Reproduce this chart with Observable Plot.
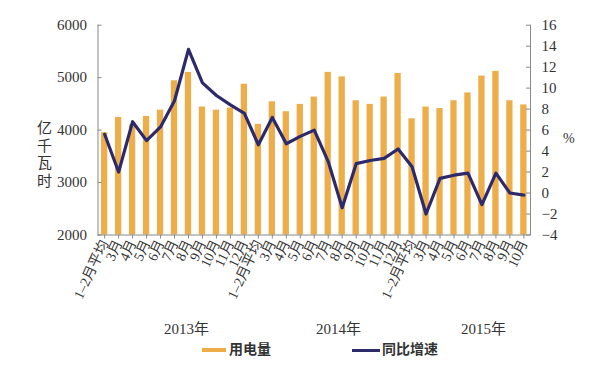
<!DOCTYPE html>
<html><head><meta charset="utf-8">
<script src="https://cdn.jsdelivr.net/npm/d3@7"></script>
<script src="https://cdn.jsdelivr.net/npm/@observablehq/plot@0.6"></script>
<style>
body{margin:0;background:#fff;}
#wrap{position:relative;width:600px;height:379px;font-family:"Liberation Serif","Noto Sans CJK SC",serif;color:#333;}
.abs{position:absolute;white-space:nowrap;line-height:1;}
</style></head><body><div id="wrap"></div>
<script>
// ---- data ----
const years = ["2013年", "2014年", "2015年"];
const months2013 = ["1–2月平均","3月","4月","5月","6月","7月","8月","9月","10月","11月","12月"];
const months2014 = ["1–2月平均","3月","4月","5月","6月","7月","8月","9月","10月","11月","12月"];
const months2015 = ["1–2月平均","3月","4月","5月","6月","7月","8月","9月","10月"];
// 用电量 (亿千瓦时)
const power2013 = [3950, 4240, 4100, 4260, 4380, 4940, 5100, 4440, 4380, 4420, 4875];
const power2014 = [4110, 4540, 4350, 4490, 4630, 5100, 5015, 4560, 4490, 4630, 5080];
const power2015 = [4215, 4440, 4410, 4560, 4710, 5030, 5120, 4560, 4480];
// 同比增速 (%)
const growth2013 = [5.6, 2.0, 6.8, 5.0, 6.3, 8.8, 13.7, 10.5, 9.3, 8.4, 7.6];
const growth2014 = [4.6, 7.2, 4.7, 5.4, 6.0, 3.0, -1.4, 2.8, 3.1, 3.3, 4.2];
const growth2015 = [2.5, -2.0, 1.4, 1.7, 1.9, -1.1, 1.9, 0.0, -0.2];
const leftTicks = [2000, 3000, 4000, 5000, 6000];
const rightTicks = [-4, -2, 0, 2, 4, 6, 8, 10, 12, 14, 16];
const seriesNames = ["用电量", "同比增速"];
const unitLeft = "亿千瓦时";
const unitRight = "%";

// ---- build table ----
const groups = [
  [months2013, power2013, growth2013],
  [months2014, power2014, growth2014],
  [months2015, power2015, growth2015]
];
const rows = [];
groups.forEach(([m, p, g], yi) => m.forEach((label, i) => rows.push({key: yi + "-" + i, label, power: p[i], growth: g[i]})));
const keys = rows.map(d => d.key);
const labelOf = new Map(rows.map(d => [d.key, d.label]));
const toY = p => 2000 + (p + 4) * 200; // map right axis (%) onto left axis domain

const BAR = "#EDAE4A", LINE = "#2D2A6B", AX = "#888";
const FONT = '"Liberation Serif","Noto Sans CJK SC",serif';
const plotW = 600 - 97.5 - 70;

const chart = Plot.plot({
  width: 600, height: 379,
  marginLeft: 97.5, marginRight: 70, marginTop: 24.7, marginBottom: 144.5,
  style: {fontFamily: FONT, fontSize: "15px", color: "#333", background: "transparent"},
  x: {type: "band", domain: keys, paddingInner: 0.55, paddingOuter: 0.25, round: false, axis: null, label: null},
  y: {domain: [2000, 6000], axis: null, label: null},
  marks: [
    Plot.barY(rows, {x: "key", y1: 2000, y2: "power", fill: BAR}),
    Plot.line(rows, {x: "key", y: d => toY(d.growth), stroke: LINE, strokeWidth: 3.2, strokeLinejoin: "round", strokeLinecap: "round"}),
    Plot.ruleY([2000], {stroke: AX}),
    Plot.frame({anchor: "left", stroke: AX}),
    Plot.frame({anchor: "right", stroke: AX}),
    Plot.tickY(leftTicks, {y: d => d, insetRight: plotW - 4, stroke: AX}),
    Plot.tickY(rightTicks, {y: d => toY(d), insetLeft: plotW - 4, stroke: AX}),
    Plot.axisY(leftTicks, {anchor: "left", label: null, tickSize: 0, tickPadding: 11, fontSize: 15, fontFamily: FONT, tickFormat: d => String(d)}),
    Plot.axisY(rightTicks.map(toY), {anchor: "right", label: null, tickSize: 0, tickPadding: 11, fontSize: 15, fontFamily: FONT,
      tickFormat: v => { const p = Math.round((v - 2000) / 200 - 4); return p < 0 ? "−" + Math.abs(p) : String(p); }}),
    Plot.axisX(keys, {anchor: "bottom", label: null, tickSize: 4, stroke: AX, tickRotate: -65, tickPadding: 2, fontSize: 14, fontFamily: FONT, tickFormat: k => labelOf.get(k)})
  ]
});
const wrap = document.getElementById("wrap");
wrap.appendChild(chart);

function addText(txt, left, top, css) {
  const d = document.createElement("div");
  d.className = "abs";
  d.textContent = txt;
  d.style.left = left + "px";
  d.style.top = top + "px";
  if (css) Object.assign(d.style, css);
  wrap.appendChild(d);
  return d;
}
// unit label (vertical)
[...unitLeft].forEach((c, i) => addText(c, 37, 121 + i * 17.5, {fontSize: "15px"}));
addText(unitRight, 563, 132, {fontSize: "14px"});
// year labels
const yearX = [188, 340, 485];
years.forEach((y, i) => addText(y, yearX[i] - 24, 322, {fontSize: "15px"}));
// legend
const lg = document.createElement("div");
lg.className = "abs";
lg.style.left = "202px"; lg.style.top = "341px";
lg.style.fontFamily = '"Noto Sans CJK SC",sans-serif';
lg.style.fontSize = "14px"; lg.style.fontWeight = "bold"; lg.style.color = "#333";
lg.innerHTML =
  `<span style="display:inline-block;width:24px;height:4px;background:${BAR};vertical-align:middle;margin-right:3px"></span>${seriesNames[0]}` +
  `<span style="display:inline-block;width:28px;height:3px;background:${LINE};vertical-align:middle;margin-left:81px;margin-right:2px"></span>${seriesNames[1]}`;
wrap.appendChild(lg);
</script></body></html>
